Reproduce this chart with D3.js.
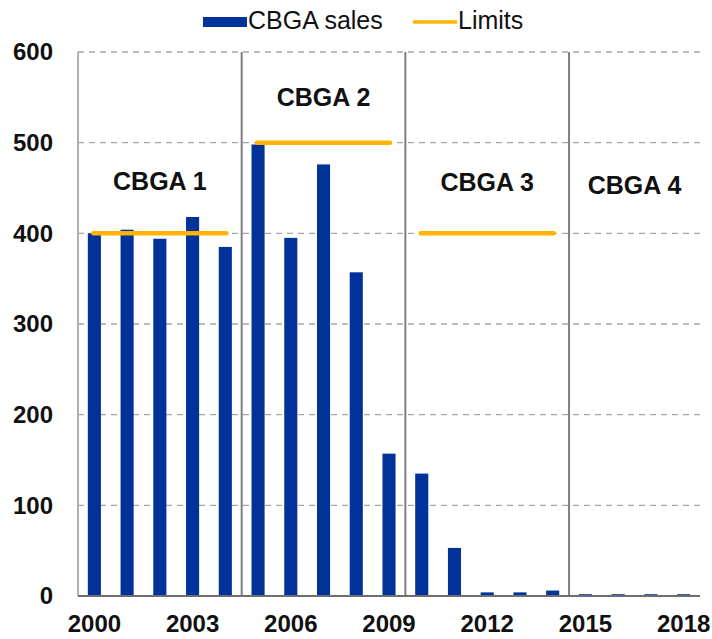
<!DOCTYPE html>
<html>
<head>
<meta charset="utf-8">
<script src="https://cdn.jsdelivr.net/npm/d3@7"></script>
<style>
  body { margin: 0; background: #fff; }
  text { font-family: "Liberation Sans", Arial, sans-serif; fill: #111; }
</style>
</head>
<body>
<svg id="chart" width="712" height="639"></svg>
<script>
// Chart data
var years = d3.range(2000, 2019);
var sales = [400, 404, 394, 418, 385, 498, 395, 476, 357, 157,
             135, 53, 4, 4, 6, 2, 2, 2, 2];
var periodNames = ["CBGA 1", "CBGA 2", "CBGA 3", "CBGA 4"];
var periodStart = [2000, 2005, 2010, 2015];
var periodEnd = [2004, 2009, 2014, 2018];
var periodLimit = [400, 500, 400, null];
var periodLabelValue = [455, 548, 454, 451];
var yTicks = [0, 100, 200, 300, 400, 500, 600];
var xTickYears = [2000, 2003, 2006, 2009, 2012, 2015, 2018];

// Colours
var blue = "#003299";
var orange = "#ffb400";

// Plot area (note: "top" is reserved by window, so use plot* names)
var plotLeft = 78, plotRight = 700, plotTop = 52, plotBottom = 596;

var svg = d3.select("#chart");

// Scales
var xScale = d3.scaleBand()
    .domain(years)
    .range([plotLeft, plotRight])
    .padding(0);

var yScale = d3.scaleLinear()
    .domain([0, 600])
    .range([plotBottom, plotTop]);

// Dashed horizontal gridlines
svg.append("g").selectAll("line")
    .data(yTicks.filter(function(d) { return d > 0; }))
    .enter().append("line")
    .attr("x1", plotLeft)
    .attr("x2", plotRight)
    .attr("y1", function(d) { return yScale(d); })
    .attr("y2", function(d) { return yScale(d); })
    .attr("stroke", "#a6a6a6")
    .attr("stroke-width", 1.3)
    .attr("stroke-dasharray", "6,5");

// Y axis labels
svg.append("g")
    .attr("transform", "translate(" + (plotLeft - 25) + ",0)")
    .call(d3.axisLeft(yScale).tickValues(yTicks).tickSize(0).tickPadding(0))
    .call(function(g) { g.select(".domain").remove(); })
    .selectAll("text")
    .attr("font-size", "24px")
    .attr("font-weight", "bold")
    .attr("fill", "#111")
    .attr("font-family", "Liberation Sans, Arial, sans-serif");

// Bars
svg.append("g").selectAll("rect")
    .data(years)
    .enter().append("rect")
    .attr("x", function(d) { return xScale(d) + xScale.bandwidth() * 0.3; })
    .attr("width", xScale.bandwidth() * 0.4)
    .attr("y", function(d, i) { return yScale(sales[i]); })
    .attr("height", function(d, i) { return plotBottom - yScale(sales[i]); })
    .attr("fill", blue);

// Vertical separators between the agreements (and the left axis)
svg.append("g").selectAll("line")
    .data(periodStart)
    .enter().append("line")
    .attr("x1", function(d) { return xScale(d); })
    .attr("x2", function(d) { return xScale(d); })
    .attr("y1", yScale(600))
    .attr("y2", plotBottom)
    .attr("stroke", function(d, i) { return i == 0 ? "#b0b0b0" : "#7f7f7f"; })
    .attr("stroke-width", 2);

// X axis baseline
svg.append("line")
    .attr("x1", plotLeft)
    .attr("x2", plotRight)
    .attr("y1", plotBottom)
    .attr("y2", plotBottom)
    .attr("stroke", "#6e6e6e")
    .attr("stroke-width", 2);

// Limit lines, from first to last year of each agreement
var half = xScale.bandwidth() / 2;
svg.append("g").selectAll("line")
    .data(periodLimit.map(function(d, i) { return i; }).filter(function(i) { return periodLimit[i] != null; }))
    .enter().append("line")
    .attr("x1", function(i) { return xScale(periodStart[i]) + half - 1; })
    .attr("x2", function(i) { return xScale(periodEnd[i]) + half + 1; })
    .attr("y1", function(i) { return yScale(periodLimit[i]); })
    .attr("y2", function(i) { return yScale(periodLimit[i]); })
    .attr("stroke", orange)
    .attr("stroke-width", 4.5)
    .attr("stroke-linecap", "round");

// Agreement labels
svg.append("g").selectAll("text")
    .data(periodNames)
    .enter().append("text")
    .attr("x", function(d, i) {
        return (xScale(periodStart[i]) + xScale(periodEnd[i]) + xScale.bandwidth()) / 2;
    })
    .attr("y", function(d, i) { return yScale(periodLabelValue[i]); })
    .attr("text-anchor", "middle")
    .attr("dominant-baseline", "middle")
    .attr("font-size", "25px")
    .attr("font-weight", "bold")
    .text(function(d) { return d; });

// X axis labels
svg.append("g")
    .attr("transform", "translate(0," + (plotBottom + 19) + ")")
    .call(d3.axisBottom(xScale).tickValues(xTickYears).tickSize(0).tickPadding(0))
    .call(function(g) { g.select(".domain").remove(); })
    .selectAll("text")
    .attr("font-size", "24px")
    .attr("font-weight", "bold")
    .attr("fill", "#111")
    .attr("font-family", "Liberation Sans, Arial, sans-serif");

// Legend
var legend = svg.append("g");
legend.append("rect")
    .attr("x", 203).attr("y", 17)
    .attr("width", 44).attr("height", 10)
    .attr("fill", blue);
legend.append("text")
    .attr("x", 248).attr("y", 22)
    .attr("dominant-baseline", "middle")
    .attr("font-size", "25px")
    .text("CBGA sales");
legend.append("line")
    .attr("x1", 413).attr("x2", 457)
    .attr("y1", 22).attr("y2", 22)
    .attr("stroke", orange)
    .attr("stroke-width", 3.5);
legend.append("text")
    .attr("x", 458).attr("y", 22)
    .attr("dominant-baseline", "middle")
    .attr("font-size", "25px")
    .text("Limits");
</script>
</body>
</html>
